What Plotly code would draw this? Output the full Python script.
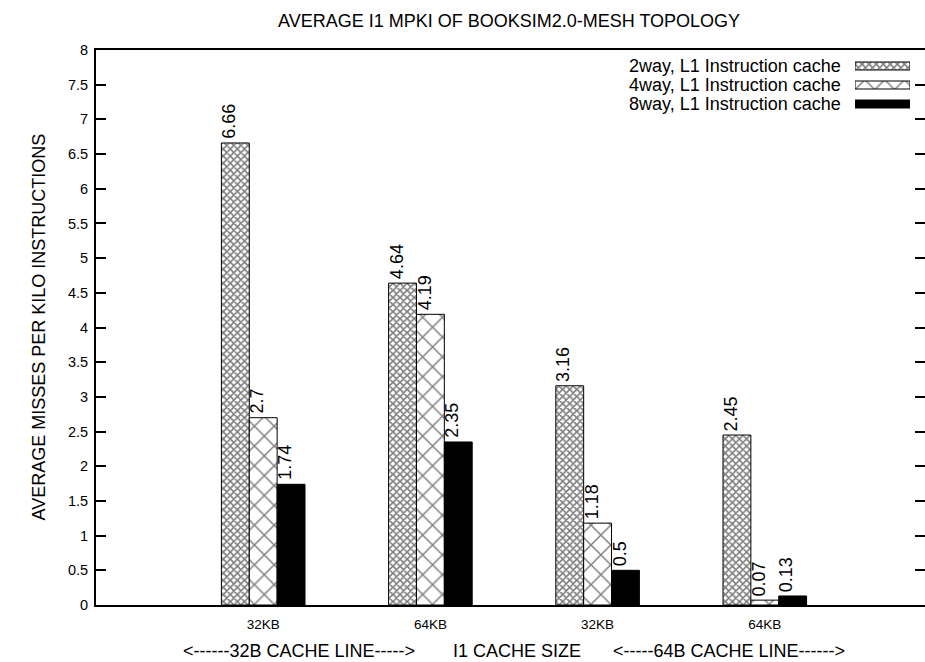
import plotly.graph_objects as go

# I1 cache MPKI per configuration (two cache-line sizes x two cache sizes)
categories = ["32KB", "64KB", "32KB", "64KB"]
series_names = ["2way, L1 Instruction cache",
                "4way, L1 Instruction cache",
                "8way, L1 Instruction cache"]
mpki_2way = [6.66, 4.64, 3.16, 2.45]
mpki_4way = [2.7, 4.19, 1.18, 0.07]
mpki_8way = [1.74, 2.35, 0.5, 0.13]
y_ticks = [i * 0.5 for i in range(17)]

FONT = "Liberation Sans, Arial, sans-serif"
W, H = 925, 662
ML, MR, MT, MB = 96, 0, 50, 57
PW, PH = W - ML - MR, H - MT - MB
UNIT_PX = 167.2  # horizontal pixels per category slot

def px_x(px):
    return (px - ML) / PW

def px_y(py):
    return (H - MB - py) / PH

styles = [
    dict(shape="x", size=5, solidity=0.55),
    dict(shape="x", size=14, solidity=0.2),
    dict(shape="", size=8, solidity=0.5),
]
fills = ["white", "white", "black"]
values = [mpki_2way, mpki_4way, mpki_8way]
xs = list(range(len(categories)))
n = len(values)
bar_w = 1.0 / 6.0

def text_note(x, y, text, **kw):
    fig.add_annotation(
        x=x, y=y, xref="paper", yref="paper", text=text, showarrow=False,
        xanchor=kw.pop("xanchor", "center"), yanchor="middle",
        font=dict(family=FONT, size=18, color="black"), **kw,
    )

fig = go.Figure()
for name, vals, st, fc in zip(series_names, values, styles, fills):
    pat = dict(fgcolor="black", bgcolor=fc, **st) if st["shape"] else None
    fig.add_trace(go.Bar(
        x=xs, y=vals, name=name, showlegend=False,
        marker=dict(color=fc, line=dict(color="black", width=1),
                    pattern=pat),
    ))

# rotated value labels above each bar
for s, vals in enumerate(values):
    for g, v in zip(xs, vals):
        fig.add_annotation(
            x=g + (s - (n - 1) / 2) * bar_w, y=v, xref="x", yref="y",
            text=f"{v:g}", textangle=-90, showarrow=False,
            xanchor="center", yanchor="bottom", xshift=-6, yshift=2,
            font=dict(family=FONT, size=18, color="black"),
        )

# legend: right-aligned labels with swatches to their right
row0, row_step = 66, 19
for i, (name, st, fc) in enumerate(zip(series_names, styles, fills)):
    ry = row0 + i * row_step
    text_note(px_x(843), px_y(ry), name, xanchor="right")
    pat = dict(fgcolor="black", bgcolor=fc, **st) if st["shape"] else None
    fig.add_trace(go.Bar(
        x=[1], y=[ry], base=[0], width=[8], orientation="h",
        xaxis="x2", yaxis="y2", showlegend=False, hoverinfo="skip",
        marker=dict(color=fc, line=dict(color="black", width=1),
                    pattern=pat),
    ))

# axis titles and chart title
text_note(px_x(298.5), px_y(651), "&lt;------32B CACHE LINE-----&gt;")
text_note(px_x(517), px_y(651), "I1 CACHE SIZE")
text_note(px_x(729), px_y(651), "&lt;-----64B CACHE LINE------&gt;")
text_note(px_x(38), px_y(327.5), "AVERAGE MISSES PER KILO INSTRUCTIONS",
          textangle=-90)
text_note(px_x(509), px_y(21), "AVERAGE I1 MPKI OF BOOKSIM2.0-MESH TOPOLOGY")

tick_common = dict(ticks="inside", ticklen=10, tickwidth=1.5,
                   tickcolor="black", showgrid=False, zeroline=False,
                   automargin=False)

fig.update_layout(
    width=W, height=H,
    margin=dict(l=ML, r=MR, t=MT, b=MB, pad=0, autoexpand=False),
    paper_bgcolor="white", plot_bgcolor="white",
    barmode="group", bargap=0.5, bargroupgap=0,
    font=dict(family=FONT, color="black"),
    xaxis=dict(
        range=[-1, -1 + PW / UNIT_PX], tickmode="array", tickvals=xs,
        ticktext=categories, ticks="", showgrid=False, zeroline=False,
        showline=True, linecolor="black", linewidth=2, mirror=True,
        tickfont=dict(family=FONT, size=13.5, color="black"),
        ticklabelstandoff=6, automargin=False,
    ),
    # tick marks along the top edge
    xaxis3=dict(
        overlaying="x", matches="x", side="top", anchor="y",
        tickmode="array", tickvals=xs, showticklabels=False,
        showline=False, **tick_common,
    ),
    yaxis=dict(
        range=[0, 8], tickmode="array", tickvals=y_ticks,
        ticktext=[f"{t:g}" for t in y_ticks],
        showline=True, linecolor="black", linewidth=2, mirror="ticks",
        tickfont=dict(family=FONT, size=14.5, color="black"),
        ticklabelstandoff=3, **tick_common,
    ),
    xaxis2=dict(domain=[px_x(855), px_x(910)], range=[0, 1], anchor="y2",
                visible=False, fixedrange=True, automargin=False),
    yaxis2=dict(domain=[0, 1], range=[H - MB, MT], anchor="x2",
                visible=False, fixedrange=True, automargin=False),
)

fig.write_html("out.html")
